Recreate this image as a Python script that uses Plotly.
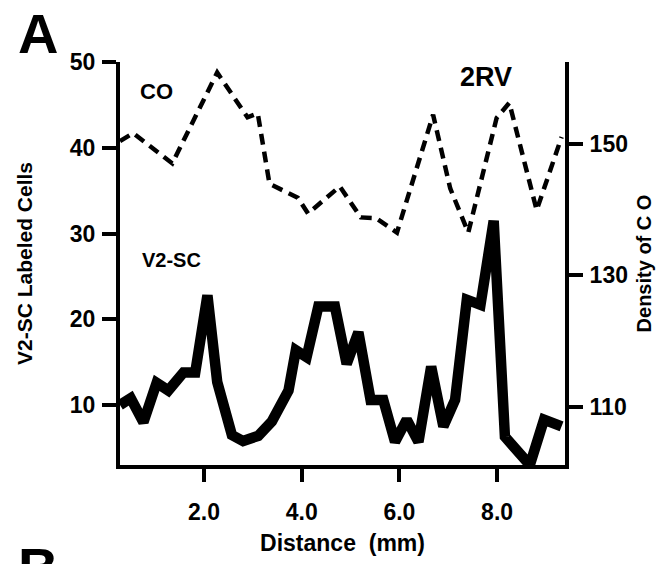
import plotly.graph_objects as go

# V2-SC labeled cells (left axis)
sc_x = [0.28, 0.50, 0.76, 1.03, 1.27, 1.58, 1.82, 2.07, 2.27, 2.57, 2.80, 3.11, 3.39, 3.59,
        3.73, 3.88, 4.10, 4.34, 4.68, 4.92, 5.16, 5.41, 5.67, 5.91, 6.15, 6.39, 6.65, 6.90,
        7.14, 7.38, 7.66, 7.93, 8.16, 8.67, 8.96, 9.32]
sc_y = [10.0, 10.8, 8.0, 12.6, 11.7, 13.8, 13.8, 22.8, 12.7, 6.5, 5.8, 6.4, 8.1, 9.9,
        11.7, 16.4, 15.6, 21.5, 21.5, 14.8, 18.5, 10.6, 10.6, 5.7, 8.3, 5.7, 14.5, 7.5,
        10.6, 22.3, 21.7, 31.5, 6.3, 3.0, 8.3, 7.5]

# Density of CO (right axis)
co_x = [0.28, 0.55, 1.35, 2.27, 2.89, 3.10, 3.34, 3.92, 4.13, 4.78, 5.21, 5.52, 5.95,
        6.69, 7.04, 7.41, 7.99, 8.25, 8.81, 9.32]
co_y = [150.4, 151.6, 147.0, 160.8, 154.0, 154.6, 143.9, 141.8, 139.4, 143.5, 138.8, 138.7, 136.5,
        154.4, 143.2, 136.5, 153.9, 156.2, 139.9, 151.0]

x_ticks = [2.0, 4.0, 6.0, 8.0]
left_ticks = [10, 20, 30, 40, 50]
right_ticks = [110, 130, 150]

FONT = "Liberation Sans"

fig = go.Figure()
fig.add_trace(go.Scatter(x=co_x, y=co_y, mode="lines", yaxis="y2", name="CO",
                         line=dict(color="black", width=4.5, dash="11px,7px")))
fig.add_trace(go.Scatter(x=sc_x, y=sc_y, mode="lines", name="V2-SC",
                         line=dict(color="black", width=10.5)))

tickfont = dict(family=FONT, size=23, color="black", weight="bold")
fig.update_layout(
    width=664, height=564,
    margin=dict(l=120, r=99, t=62, b=99),
    paper_bgcolor="white", plot_bgcolor="white",
    showlegend=False,
    xaxis=dict(range=[0.28, 9.39], tickvals=x_ticks, ticktext=[f"{v:.1f}" for v in x_ticks],
               showgrid=False, zeroline=False, showline=True, linewidth=4, linecolor="black",
               ticks="outside", ticklen=13, tickwidth=4, tickcolor="black",
               tickfont=tickfont, ticklabelstandoff=10,
               title=dict(text="Distance  (mm)", standoff=12,
                          font=dict(family=FONT, size=23, color="black", weight="bold"))),
    yaxis=dict(range=[3.0, 50.05], tickvals=left_ticks,
               showgrid=False, zeroline=False, showline=True, linewidth=4, linecolor="black",
               ticks="outside", ticklen=14, tickwidth=4, tickcolor="black",
               tickfont=tickfont, ticklabelstandoff=2,
               title=dict(text="V2-SC Labeled Cells", standoff=32,
                          font=dict(family=FONT, size=21, color="black", weight="bold"))),
    yaxis2=dict(range=[101.2, 162.4], tickvals=right_ticks, overlaying="y", side="right",
                showgrid=False, zeroline=False, showline=True, linewidth=4, linecolor="black",
                ticks="outside", ticklen=14, tickwidth=4, tickcolor="black",
                tickfont=tickfont, ticklabelstandoff=2,
                title=dict(text="Density of C O", standoff=11,
                           font=dict(family=FONT, size=20, color="black", weight="bold"))),
    annotations=[
        dict(text="A", xref="paper", yref="paper", x=-0.234, y=1.154, xanchor="left", yanchor="top",
             showarrow=False, font=dict(family=FONT, size=56, color="black", weight="bold")),
        dict(text="B", xref="paper", yref="paper", x=-0.234, y=-0.172, xanchor="left", yanchor="top",
             showarrow=False, font=dict(family=FONT, size=56, color="black", weight="bold")),
        dict(text="2RV", xref="paper", yref="paper", x=0.822, y=0.963, xanchor="center", yanchor="middle",
             showarrow=False, font=dict(family=FONT, size=27, color="black", weight="bold")),
        dict(text="CO", xref="paper", yref="paper", x=0.083, y=0.928, xanchor="center", yanchor="middle",
             showarrow=False, font=dict(family=FONT, size=22, color="black", weight="bold")),
        dict(text="V2-SC", xref="paper", yref="paper", x=0.115, y=0.509, xanchor="center", yanchor="middle",
             showarrow=False, font=dict(family=FONT, size=20, color="black", weight="bold")),
    ],
)

fig.write_html("out.html")
